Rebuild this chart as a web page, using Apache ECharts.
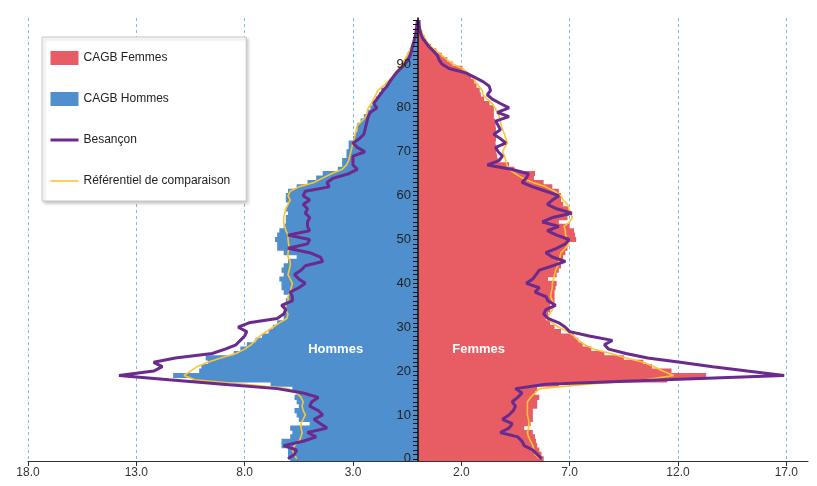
<!DOCTYPE html>
<html><head><meta charset="utf-8">
<script src="https://cdn.jsdelivr.net/npm/echarts@6/dist/echarts.min.js"></script>
<style>html,body{margin:0;padding:0;background:#fff}#c{width:817px;height:486px}</style>
</head><body><div id="c"></div><script>
const ages = Array.from({length: 101}, (_, i) => String(i));
const xTickLabels = ['18.0','13.0','8.0','3.0','2.0','7.0','12.0','17.0'];

const cagbHommes = [5.9,6.0,6.0,6.3,6.3,5.9,5.8,5.9,5.0,5.5,
 5.6,5.7,5.5,5.6,5.7,5.6,5.8,6.8,10.4,11.3,
 10.1,10.0,9.7,9.8,8.5,8.2,7.9,7.5,7.2,6.9,
 6.7,6.5,6.2,6.2,6.1,6.2,6.1,6.0,6.2,6.3,
 6.3,6.4,6.2,6.3,6.2,6.0,5.6,6.2,6.5,6.5,
 6.6,6.5,6.4,6.2,6.1,6.1,6.0,6.1,6.0,6.1,
 6.1,6.0,5.6,5.1,4.7,4.4,3.7,3.5,3.5,3.3,
 3.3,3.2,3.2,3.0,2.9,2.8,2.8,2.65,2.5,2.35,
 2.2,2.05,1.95,1.8,1.7,1.5,1.35,1.15,1.0,0.9,
 0.75,0.6,0.5,0.38,0.28,0.2,0.15,0.1,0.07,0.04,0.03];

const cagbFemmes = [5.8,5.7,5.6,5.5,5.45,5.4,5.3,4.9,5.2,5.3,
 5.3,5.3,5.5,5.5,5.6,5.4,5.5,6.5,11.5,13.3,
 11.7,10.8,10.4,9.5,8.6,8.0,7.6,7.4,7.2,6.6,
 6.3,6.1,5.9,6.0,6.1,6.1,6.3,6.3,6.3,6.35,
 6.4,6.0,6.4,6.5,6.6,6.65,6.7,6.8,6.9,6.95,
 7.3,7.25,7.2,7.0,6.5,6.9,6.95,6.95,6.7,6.6,
 6.6,6.5,6.2,5.8,5.35,5.4,4.45,4.2,3.7,3.65,
 3.6,3.6,3.58,3.6,3.58,3.6,3.58,3.55,3.5,3.5,
 3.5,3.3,3.05,2.9,2.85,2.7,2.6,2.45,2.2,2.05,
 1.6,1.35,1.1,0.85,0.6,0.4,0.3,0.2,0.12,0.07,0.04];

const besanconHommes = [6.0,5.7,5.6,6.2,5.3,4.7,5.1,4.2,4.5,4.8,
 4.4,4.6,5.0,4.9,4.6,5.3,6.5,9.0,11.5,13.8,
 12.2,11.8,12.2,11.2,9.5,8.9,8.4,8.2,8.0,7.9,
 8.3,7.8,6.5,6.2,6.1,6.3,5.8,5.8,5.9,5.5,
 5.2,5.5,5.7,5.4,5.2,4.4,4.5,5.0,6.0,5.1,
 5.0,6.0,5.0,5.1,5.1,5.0,5.2,5.1,5.3,5.0,
 5.3,5.2,4.1,4.2,3.9,3.2,2.8,3.0,3.0,3.0,
 2.45,2.8,3.0,2.7,2.5,2.45,2.4,2.35,2.3,2.2,
 1.9,2.05,1.9,1.75,1.6,1.42,1.3,1.15,1.0,0.8,
 0.6,0.45,0.36,0.3,0.26,0.2,0.15,0.1,0.08,0.05,0.03];

const besanconFemmes = [5.7,5.5,5.3,4.9,4.8,4.6,3.8,4.2,4.35,3.9,
 4.2,4.4,4.5,4.35,4.6,4.8,4.5,5.9,11.4,16.9,
 15.2,13.6,12.1,10.6,9.6,8.8,8.6,8.97,7.9,7.0,
 6.8,6.5,6.0,5.8,5.9,6.35,6.0,5.9,5.4,5.6,
 5.0,5.3,5.45,5.6,6.2,6.8,6.2,5.9,6.4,6.8,
 6.97,6.4,5.97,6.5,5.74,6.2,7.1,6.4,5.97,6.2,
 6.5,5.9,5.3,4.8,5.0,5.1,4.3,3.2,3.74,3.9,
 3.7,3.58,4.05,3.8,3.5,3.8,3.7,3.58,4.2,3.66,
 4.2,3.8,3.43,3.2,3.35,3.28,3.0,2.6,2.2,1.43,
 1.1,0.97,0.89,0.7,0.5,0.35,0.2,0.12,0.08,0.05,0.05];

const refHommes = [5.6,5.7,5.8,5.7,5.5,5.4,5.35,5.4,5.4,5.3,
 5.2,5.3,5.35,5.3,5.4,5.6,6.0,8.0,10.3,10.8,
 10.5,10.2,9.7,9.1,8.4,8.0,7.7,7.5,7.3,7.0,
 6.7,6.4,6.05,6.0,6.1,6.1,6.0,6.0,5.9,5.85,
 5.8,5.9,6.0,5.95,5.9,5.9,6.0,6.0,5.95,5.97,
 6.0,6.0,6.1,6.15,6.2,6.2,6.15,6.1,6.0,5.9,
 6.0,5.9,5.5,4.8,4.4,4.0,3.5,3.3,3.2,3.15,
 3.1,3.05,3.0,2.95,2.9,2.85,2.8,2.6,2.4,2.35,
 2.3,2.15,2.05,1.95,1.85,1.6,1.4,1.2,1.05,0.9,
 0.75,0.62,0.5,0.4,0.3,0.22,0.16,0.11,0.08,0.05,0.03];

const refFemmes = [5.6,5.4,5.35,5.3,5.2,5.1,5.05,5.1,5.12,5.1,
 5.05,5.05,5.05,5.05,5.2,5.4,5.6,7.8,10.5,11.8,
 11.3,10.9,10.4,9.6,8.9,8.1,7.7,7.4,7.2,6.9,
 6.5,6.2,6.0,6.05,6.2,6.28,6.2,6.12,6.15,6.2,
 6.2,6.25,6.3,6.35,6.45,6.5,6.55,6.6,6.8,6.97,
 6.9,6.81,6.8,6.74,7.0,7.12,7.05,6.97,6.9,6.7,
 6.6,6.3,5.9,5.3,4.82,4.5,4.2,4.1,4.05,4.0,
 3.9,4.0,4.13,4.05,4.0,3.9,3.85,3.8,3.75,3.66,
 3.55,3.43,3.2,3.0,2.97,2.8,2.65,2.5,2.3,2.05,
 1.6,1.35,1.1,0.85,0.6,0.42,0.3,0.2,0.12,0.07,0.04];

const RED = '#E85D63', BLUE = '#4F8FCE', PURPLE = '#6A2A8E', YELLOW = '#FBC531';
const FONT = 'Liberation Sans, Arial, sans-serif';
const neg = a => a.map(v => -v);

const GRID_LEFT = 28, GRID_RIGHT = 9, W = 817;
const plotW = W - GRID_LEFT - GRID_RIGHT;

const chart = echarts.init(document.getElementById('c'), null, {renderer: 'canvas'});
const option = {
  animation: false,
  backgroundColor: '#fff',
  grid: {left: GRID_LEFT, right: GRID_RIGHT, top: 18, bottom: 25, containLabel: false},
  legend: {
    orient: 'vertical', left: 42, top: 37,
    padding: [14, 16, 13, 7],
    itemGap: 27, itemWidth: 28, itemHeight: 14,
    backgroundColor: '#fff', borderColor: '#c8c8c8', borderWidth: 1,
    shadowColor: 'rgba(0,0,0,0.22)', shadowBlur: 3, shadowOffsetX: 2, shadowOffsetY: 2,
    textStyle: {fontFamily: FONT, fontSize: 12, color: '#222', lineHeight: 14},
    data: [
      {name: 'CAGB Femmes', icon: 'rect'},
      {name: 'CAGB Hommes', icon: 'rect'},
      {name: 'Besançon', itemStyle: {color: 'rgba(0,0,0,0)', borderWidth: 0}, lineStyle: {width: 3}},
      {name: 'Référentiel de comparaison', itemStyle: {color: 'rgba(0,0,0,0)', borderWidth: 0}, lineStyle: {width: 1.6}}
    ]
  },
  xAxis: [
    {type: 'value', min: -18, max: 18, show: false},
    {type: 'value', min: 0, max: 36, interval: 5, position: 'bottom',
     axisLine: {show: true, onZero: false, lineStyle: {color: '#333', width: 1}},
     axisTick: {show: true, length: 5, lineStyle: {color: '#333'}},
     axisLabel: {color: '#333', fontSize: 12, fontFamily: FONT, margin: 6, showMaxLabel: false,
       formatter: (v) => xTickLabels[Math.round(v / 5)] || ''},
     splitLine: {show: true, showMaxLine: false, lineStyle: {color: '#7cbde8', type: [3, 3], width: 1}}}
  ],
  yAxis: {
    type: 'category', data: ages, boundaryGap: true, position: 'left',
    offset: -plotW / 2, z: 10,
    axisLine: {show: true, onZero: false, lineStyle: {color: '#111', width: 1.5}},
    axisTick: {show: true, interval: 0, length: 5, alignWithLabel: true, lineStyle: {color: '#111'}},
    axisLabel: {interval: 9, margin: 7, color: '#222', fontSize: 13,
      fontFamily: FONT,
      formatter: v => (v === '100' ? '' : v)},
    splitLine: {show: false}
  },
  series: [
    {name: 'CAGB Femmes', type: 'bar', stack: 'p', xAxisIndex: 0, data: cagbFemmes,
     barWidth: '118%', itemStyle: {color: RED}, z: 2},
    {name: 'CAGB Hommes', type: 'bar', stack: 'p', xAxisIndex: 0, data: neg(cagbHommes),
     barWidth: '118%', itemStyle: {color: BLUE}, z: 2},
    {name: 'Référentiel de comparaison', type: 'line', xAxisIndex: 0, data: neg(refHommes),
     symbol: 'none', lineStyle: {color: YELLOW, width: 1.6}, itemStyle: {color: YELLOW}, z: 3},
    {name: 'Référentiel de comparaison', type: 'line', xAxisIndex: 0, data: refFemmes,
     symbol: 'none', lineStyle: {color: YELLOW, width: 1.6}, itemStyle: {color: YELLOW}, z: 3},
    {name: 'Besançon', type: 'line', xAxisIndex: 0, data: neg(besanconHommes),
     symbol: 'none', lineStyle: {color: PURPLE, width: 3}, itemStyle: {color: PURPLE}, z: 4},
    {name: 'Besançon', type: 'line', xAxisIndex: 0, data: besanconFemmes,
     symbol: 'none', lineStyle: {color: PURPLE, width: 3}, itemStyle: {color: PURPLE}, z: 4}
  ]
};
chart.setOption(option);
const pH = chart.convertToPixel({xAxisIndex: 0, yAxisIndex: 0}, [-3.8, '25']);
const pF = chart.convertToPixel({xAxisIndex: 0, yAxisIndex: 0}, [2.8, '25']);
chart.setOption({graphic: [
  {type: 'text', x: pH[0], y: pH[1], style: {text: 'Hommes', fill: '#fff', font: 'bold 13px ' + FONT, align: 'center', verticalAlign: 'middle'}, z: 10},
  {type: 'text', x: pF[0], y: pF[1], style: {text: 'Femmes', fill: '#fff', font: 'bold 13px ' + FONT, align: 'center', verticalAlign: 'middle'}, z: 10}
]});
</script></body></html>
